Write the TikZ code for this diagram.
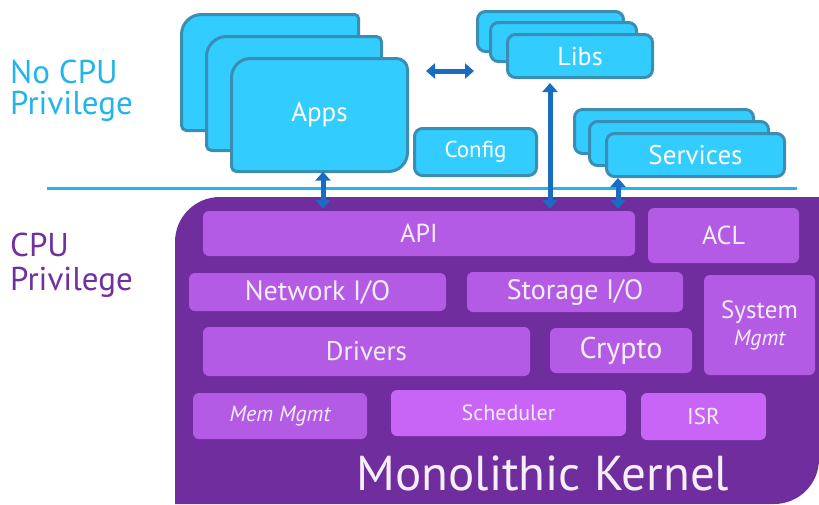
\documentclass[tikz,border=0pt]{standalone}
\usepackage{fontspec}
\setmainfont{PT Sans}
\usetikzlibrary{arrows.meta}
\definecolor{cyanfill}{HTML}{33CCFF}
\definecolor{cyanedge}{HTML}{3A8DB3}
\definecolor{cyantext}{HTML}{22B4EA}
\definecolor{kpurple}{HTML}{6F2D9D}
\definecolor{ptext}{HTML}{7030A0}
\definecolor{ibox}{HTML}{B45BE6}
\definecolor{iboxlight}{HTML}{C965F6}
\definecolor{arrowblue}{HTML}{1A6BC2}
\definecolor{ktext}{HTML}{F6EEFB}
\tikzset{
  fsz/.style={font=\fontsize{#1}{#1}\selectfont},
  cline/.style={draw=cyanedge, fill=cyanfill, line width=3pt},
  cbox/.style={cline, rounded corners=8pt, text=white, inner sep=0pt},
  ctext/.style={text=white, inner sep=0pt},
  kbox/.style={fill=ibox, rounded corners=6pt, text=ktext, inner sep=0pt, align=center},
  dbl/.style={draw=arrowblue, line width=5pt,
    {Triangle[width=15pt,length=9pt,fill=arrowblue]}-{Triangle[width=15pt,length=9pt,fill=arrowblue]}},
  lbl/.style={anchor=base west, inner sep=0pt, fsz=33},
}
% box with individual corner radii: x1 y1 x2 y2 rTL rTR rBR rBL
\newcommand{\appshape}[8]{%
  \draw[cline] (#1,#2+#5) .. controls (#1,#2+0.448*#5) and (#1+0.448*#5,#2) .. (#1+#5,#2)
   -- (#3-#6,#2) .. controls (#3-0.448*#6,#2) and (#3,#2+0.448*#6) .. (#3,#2+#6)
   -- (#3,#4-#7) .. controls (#3,#4-0.448*#7) and (#3-0.448*#7,#4) .. (#3-#7,#4)
   -- (#1+#8,#4) .. controls (#1+0.448*#8,#4) and (#1,#4-0.448*#8) .. (#1,#4-#8) -- cycle;}
\begin{document}
\begin{tikzpicture}[x=1pt,y=-1pt]
\useasboundingbox (0,0) rectangle (819,504);
\fill[white] (0,0) rectangle (819,504);
% left labels
\node[lbl, text=cyantext] (nocpu) at (10,83) {No CPU};
\node[lbl, text=cyantext] (nopriv) at (10,114) {Privilege};
\node[lbl, text=ptext] (cpu) at (10,256) {CPU};
\node[lbl, text=ptext] (priv) at (10,290) {Privilege};
% separator
\draw[cyantext, line width=3pt] (47,188) -- (797,188);
% kernel
\fill[kpurple] (175,504) -- (175,242) .. controls (175,217) and (195,197) .. (220,197)
  -- (819,197) -- (819,459) .. controls (819,484) and (799,504) .. (774,504) -- cycle;
% apps stack
\appshape{181.5}{14.5}{358.5}{130.5}{20}{4}{5}{5}
\appshape{206.5}{36.5}{381.5}{150.5}{20}{5}{5}{5}
\appshape{231.5}{58.5}{407.5}{171.5}{19}{11}{19}{5}
\node[ctext, minimum width=176pt, minimum height=113pt, fsz=27] (apps) at (319.5,115) {Apps};
% libs stack
\node[cbox, minimum width=146pt, minimum height=40pt] (libs3) at (550.5,31.5) {};
\node[cbox, minimum width=146pt, minimum height=39pt] (libs2) at (563.5,42) {};
\node[cbox, minimum width=145pt, minimum height=43pt, fsz=26] (libs) at (580,56) {Libs};
% config
\node[cbox, minimum width=122pt, minimum height=47pt, fsz=23] (config) at (475.5,152) {Config};
% services stack
\node[cbox, minimum width=179pt, minimum height=44pt] (srv3) at (664,131.5) {};
\node[cbox, minimum width=179pt, minimum height=44pt] (srv2) at (679,143.5) {};
\node[cbox, minimum width=178pt, minimum height=43pt, fsz=27] (srv) at (695.5,155) {Services};
% kernel boxes
\node[kbox, minimum width=432pt, minimum height=45pt, fsz=26] (api) at (419,233.5) {API};
\node[kbox, minimum width=151pt, minimum height=55pt, fsz=26] (acl) at (723.5,235.5) {ACL};
\node[kbox, minimum width=257pt, minimum height=38pt, fsz=28] (netio) at (317.5,292) {Network I/O};
\node[kbox, minimum width=216pt, minimum height=40pt, fsz=28] (stio) at (575,292) {Storage I/O};
\node[kbox, minimum width=111pt, minimum height=100pt, font=\fontsize{25}{27}\selectfont] (sysm) at (759.5,325)
  {System\\{\fontsize{22}{27}\selectfont\itshape Mgmt}};
\node[kbox, minimum width=327pt, minimum height=49pt, fsz=27] (drv) at (366.5,351.5) {Drivers};
\node[kbox, minimum width=142pt, minimum height=45pt, fsz=30] (crypto) at (621,350.5) {Crypto};
\node[kbox, minimum width=174pt, minimum height=46pt, font=\fontsize{22}{22}\selectfont\itshape] (mem) at (280,416) {Mem Mgmt};
\node[kbox, fill=iboxlight, minimum width=235pt, minimum height=46pt, fsz=22] (sched) at (508.5,413) {Scheduler};
\node[kbox, fill=iboxlight, minimum width=125pt, minimum height=47pt, fsz=23] (isr) at (703.5,416.5) {ISR};
\node[anchor=base, inner sep=0pt, text=ktext, fsz=49] (kernel) at (543,490) {Monolithic Kernel};
% arrows
\coordinate (h1) at (426,71);
\coordinate (h2) at (474,71);
\draw[dbl] (h1) -- (h2);
\draw[dbl] ([xshift=3.5pt]apps.south) -- ([xshift=3.5pt,yshift=2pt]apps.south |- api.north);
\draw[dbl] ([xshift=-30pt,yshift=-4pt]libs.south) -- ([xshift=-30pt,yshift=2pt]libs.south |- api.north);
\draw[dbl] ([xshift=-77.5pt]srv.south) -- ([xshift=-77.5pt,yshift=2pt]srv.south |- api.north);
\end{tikzpicture}
\end{document}
